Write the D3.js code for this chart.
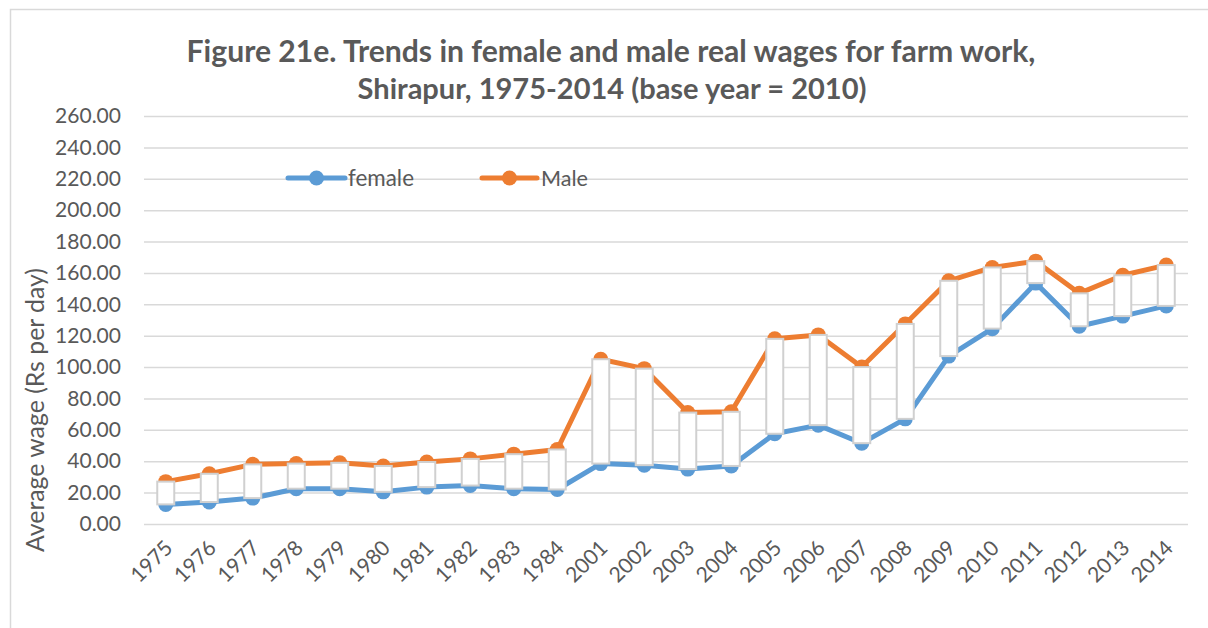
<!DOCTYPE html>
<html>
<head>
<meta charset="utf-8">
<script src="https://cdn.jsdelivr.net/npm/d3@7"></script>
<style>
  html, body { margin: 0; padding: 0; background: #fff; }
  svg { display: block; }
  text { font-family: Lato, "Open Sans", "Liberation Sans", sans-serif; fill: #595959; }
</style>
</head>
<body>
<svg id="chart" width="1208" height="628"></svg>
<script>
// Survey years (note the gap between 1984 and 2001)
const years = ["1975","1976","1977","1978","1979","1980","1981","1982","1983","1984",
               "2001","2002","2003","2004","2005","2006","2007","2008","2009","2010",
               "2011","2012","2013","2014"];

// Real daily wages for farm work, Rs per day (base year 2010)
const female = [12.5, 14, 16.5, 22.5, 22.5, 20.5, 23.5, 24.5, 22.5, 22,
                38.5, 37.5, 35, 37, 57.5, 63, 51.5, 67, 107, 124.5,
                153.5, 126, 132.5, 139];
const male   = [27, 32, 38, 38.5, 39, 37, 39.5, 41.5, 44.5, 47.5,
                105, 99, 71, 71.5, 118, 120.5, 100, 127.5, 155, 163.5,
                167.5, 147, 158.5, 165];

const yTicks = [0, 20, 40, 60, 80, 100, 120, 140, 160, 180, 200, 220, 240, 260];
const seriesNames = ["female", "Male"];
const titleLines = ["Figure 21e. Trends in female and male real wages for farm work,",
                    "Shirapur, 1975-2014 (base year = 2010)"];
const yTitle = "Average wage (Rs per day)";

const BLUE = "#5B9BD5", ORANGE = "#ED7D31", GRID = "#D9D9D9";

const svg = d3.select("#chart");

// Size a text element's font so that its rendered width hits a target
function fitWidth(sel, target) {
  const base = parseFloat(sel.style("font-size"));
  const w = sel.node().getComputedTextLength();
  sel.style("font-size", (base * target / w).toFixed(2) + "px");
  return base * target / w;
}

// Chart-area border
svg.append("rect")
  .attr("x", 10.5).attr("y", 9.5)
  .attr("width", 1230).attr("height", 650)
  .attr("fill", "#fff").attr("stroke", GRID).attr("stroke-width", 1.5);

const x = d3.scaleBand().domain(years).range([144, 1188]).padding(0);
const y = d3.scaleLinear().domain([0, 260]).range([524, 116]);
const cx = d => x(d) + x.bandwidth() / 2;

// Horizontal gridlines
const yAxis = d3.axisLeft(y).tickValues(yTicks).tickSize(-(1188 - 144))
  .tickFormat(d3.format(".2f")).tickPadding(23);
const gy = svg.append("g").attr("transform", "translate(144,0)").call(yAxis);
gy.select(".domain").remove();
gy.selectAll(".tick line").attr("stroke", GRID).attr("stroke-width", 1.5);
const yLabels = gy.selectAll(".tick text").style("font-size", "20px").attr("fill", "#595959");
// Match size of the widest label
const yfs = fitWidth(gy.select(".tick:last-of-type text"), 66);
yLabels.style("font-size", yfs.toFixed(2) + "px");

// X axis labels (rotated)
const gx = svg.append("g");
const xl = gx.selectAll("text").data(years).join("text")
  .attr("transform", d => `translate(${cx(d) + 3},${544}) rotate(-45)`)
  .attr("text-anchor", "end")
  .attr("dy", "0.35em")
  .style("font-size", "20px")
  .text(d => d);
const xfs = fitWidth(d3.select(xl.nodes()[23]), 49);
xl.style("font-size", xfs.toFixed(2) + "px");

// Lines and markers
const line = d3.line().x((d, i) => cx(years[i])).y(d => y(d));
[[female, BLUE], [male, ORANGE]].forEach(([vals, col]) => {
  svg.append("path").datum(vals)
    .attr("d", line).attr("fill", "none")
    .attr("stroke", col).attr("stroke-width", 5).attr("stroke-linejoin", "round");
  svg.append("g").selectAll("circle").data(vals).join("circle")
    .attr("cx", (d, i) => cx(years[i])).attr("cy", d => y(d))
    .attr("r", 7.5).attr("fill", col);
});

// Up/down bars spanning female to male wage each year
const barW = 17;
svg.append("g").selectAll("rect").data(years).join("rect")
  .attr("x", d => cx(d) - barW / 2)
  .attr("y", (d, i) => y(Math.max(female[i], male[i])))
  .attr("width", barW)
  .attr("height", (d, i) => Math.abs(y(female[i]) - y(male[i])))
  .attr("fill", "#fff").attr("stroke", "#D0D0D0").attr("stroke-width", 2);

// Legend
const legend = [
  { name: seriesNames[0], col: BLUE, x0: 288, x1: 345, tx: 348, w: 66 },
  { name: seriesNames[1], col: ORANGE, x0: 482, x1: 537, tx: 541, w: 47 }
];
const ly = 178;
legend.forEach(l => {
  svg.append("line").attr("x1", l.x0).attr("x2", l.x1).attr("y1", ly).attr("y2", ly)
    .attr("stroke", l.col).attr("stroke-width", 5).attr("stroke-linecap", "round");
  svg.append("circle").attr("cx", (l.x0 + l.x1) / 2).attr("cy", ly).attr("r", 7.5).attr("fill", l.col);
  const t = svg.append("text").attr("x", l.tx).attr("y", ly).attr("dy", "0.35em")
    .style("font-size", "20px").text(l.name);
  fitWidth(t, l.w);
});

// Title
const t1 = svg.append("text").attr("x", 611).attr("y", 62).attr("text-anchor", "middle")
  .style("font-size", "28px").style("font-weight", "bold").text(titleLines[0]);
fitWidth(t1, 849);
const t2 = svg.append("text").attr("x", 612).attr("y", 99).attr("text-anchor", "middle")
  .style("font-size", "28px").style("font-weight", "bold").text(titleLines[1]);
fitWidth(t2, 509);

// Y axis title
const yt = svg.append("text")
  .attr("transform", "translate(35,410) rotate(-90)")
  .attr("text-anchor", "middle").attr("dy", "0.35em")
  .style("font-size", "22px").text(yTitle);
fitWidth(yt, 284);
</script>
</body>
</html>
